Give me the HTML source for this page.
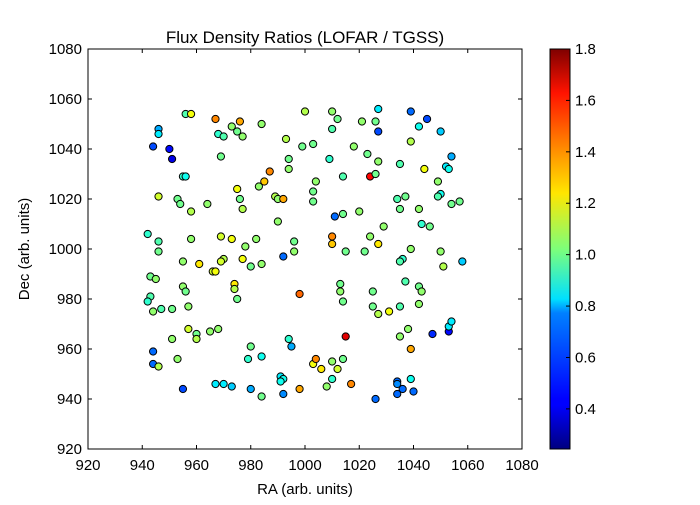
<!DOCTYPE html>
<html><head><meta charset="utf-8"><style>
body{margin:0;background:#fff;}
svg text{font-family:"Liberation Sans","DejaVu Sans",sans-serif;fill:#000;}
</style></head><body>
<svg id="chart" width="700" height="500" xmlns="http://www.w3.org/2000/svg">
<defs>
<linearGradient id="jet" x1="0" y1="1" x2="0" y2="0">
<stop offset="0" stop-color="#00007f"/><stop offset="0.11" stop-color="#0000ff"/><stop offset="0.125" stop-color="#0000ff"/>
<stop offset="0.34" stop-color="#0080ff"/><stop offset="0.375" stop-color="#00e0ff"/><stop offset="0.5" stop-color="#7dff7a"/>
<stop offset="0.64" stop-color="#ffe600"/><stop offset="0.75" stop-color="#ff8c00"/><stop offset="0.89" stop-color="#ff1300"/><stop offset="1" stop-color="#7f0000"/>
</linearGradient></defs>
<rect x="0" y="0" width="700" height="500" fill="#fff"/>
<text x="305" y="43" font-size="17" text-anchor="middle">Flux Density Ratios (LOFAR / TGSS)</text>
<g id="plot"></g>
<rect x="88" y="49" width="434" height="400" fill="none" stroke="#000" stroke-width="1"/>
<text x="305" y="494" font-size="15" text-anchor="middle">RA (arb. units)</text>
<text transform="translate(29,249) rotate(-90)" font-size="15" text-anchor="middle">Dec (arb. units)</text>
<rect x="550" y="49" width="20" height="400" fill="url(#jet)" stroke="#000" stroke-width="1"/>
<g id="cbticks"></g>
</svg>
<script>
const xTicks=[920,940,960,980,1000,1020,1040,1060,1080];
const yTicks=[920,940,960,980,1000,1020,1040,1060,1080];
const cbTicks=[0.4,0.6,0.8,1.0,1.2,1.4,1.6,1.8];
const raValues=[1000,1010,1012,1027,1039,1045,1050,1027,1021,1026,1010,1042,984,976,967,956,958,946,946,944,950,951,973,975,977,968,970,993,999,1003,1014,1023,1027,1009,1018,1035,1039,1044,1049,1050,1052,1053,1054,1057,1054,1049,1024,1026,1004,1003,1003,994,994,969,975,976,977,983,985,987,989,990,992,964,953,954,958,946,955,956,990,1014,1011,1020,1029,1034,1037,1035,1042,1046,1043,1010,1010,1015,1022,1024,1027,1039,1036,1035,1042,1043,1037,1050,1051,1058,942,946,946,958,969,973,982,978,977,970,969,966,967,961,955,974,974,980,984,992,996,996,998,943,945,943,942,947,944,951,955,956,957,975,965,968,960,960,951,957,944,944,946,953,955,967,970,973,979,980,984,984,980,991,992,991,992,994,995,998,1013,1013,1014,1015,1014,1003,1004,1006,1008,1010,1010,1012,1017,1025,1025,1027,1031,1035,1038,1039,1035,1042,1047,1053,1053,1054,1034,1034,1036,1039,1040,1034,1026];
const decValues=[1055,1055,1052,1056,1055,1052,1047,1047,1051,1051,1048,1049,1050,1051,1052,1054,1054,1048,1046,1041,1040,1036,1049,1047,1045,1046,1045,1044,1041,1042,1029,1038,1035,1036,1041,1034,1043,1032,1027,1022,1033,1032,1037,1019,1018,1021,1029,1030,1027,1023,1019,1036,1032,1037,1024,1020,1016,1025,1027,1031,1021,1020,1020,1018,1020,1018,1015,1021,1029,1029,1011,1014,1013,1015,1009,1020,1021,1016,1016,1009,1010,1005,1002,999,999,1005,1002,1000,996,995,985,983,987,999,993,995,1006,1003,999,1004,1005,1004,1004,1001,996,996,995,991,991,994,995,986,984,993,994,997,999,1003,982,989,988,981,979,976,975,976,985,983,977,980,967,968,966,964,964,968,959,954,953,956,944,946,946,945,956,961,957,941,944,949,948,947,942,964,961,944,986,983,979,965,956,954,956,952,945,948,955,952,946,983,977,974,975,977,968,960,965,978,966,967,969,971,947,946,944,948,943,942,940];
const ratioValues=[1.1,1.05,1.0,0.8,0.6,0.55,0.75,0.55,1.05,1.0,0.95,0.85,1.05,1.35,1.4,0.95,1.2,0.7,0.8,0.55,0.45,0.4,1.05,1.0,1.05,0.9,0.95,1.1,1.0,1.0,0.95,1.0,1.05,0.9,1.05,0.95,1.1,1.2,1.05,0.85,0.8,0.85,0.7,1.0,1.0,0.95,1.6,1.0,1.05,1.0,1.0,1.0,1.05,1.0,1.2,1.0,1.1,1.05,1.3,1.4,1.1,1.05,1.35,1.05,1.0,1.0,1.1,1.15,0.9,0.85,1.05,1.0,0.6,1.05,1.05,0.95,1.0,1.0,1.05,1.0,0.9,1.4,1.3,1.0,1.0,1.05,1.25,1.05,0.9,0.95,1.0,1.05,0.95,1.05,1.1,0.75,0.9,0.95,1.0,1.05,1.15,1.2,1.05,1.05,1.2,1.1,1.15,1.15,1.2,1.25,1.05,1.25,1.1,1.0,1.05,0.6,1.05,1.0,1.45,1.0,1.05,0.95,0.9,0.95,1.05,1.0,1.05,1.0,1.05,1.0,1.05,1.05,1.0,1.1,1.05,1.15,0.6,0.6,1.1,1.05,0.55,0.8,0.8,0.75,0.9,1.0,0.85,1.0,0.7,0.8,0.85,0.85,0.65,0.9,0.7,1.35,1.0,1.05,1.0,1.65,1.0,1.2,1.4,1.25,1.05,0.9,1.05,1.15,1.4,1.0,1.0,1.1,1.2,0.95,1.05,1.35,1.05,1.05,0.5,0.45,0.8,0.8,0.6,0.65,0.6,0.85,0.6,0.6,0.6];
const VMIN=0.244,VMAX=1.8;
const NS="http://www.w3.org/2000/svg";
const X0=88,X1=522,Y0=449,Y1=49;
function xs(v){return X0+(v-920)/160*(X1-X0);}
function ys(v){return Y0-(v-920)/160*(Y0-Y1);}
function cs(v){return Y0-(v-VMIN)/(VMAX-VMIN)*(Y0-Y1);}
function jet(v){let t=(v-VMIN)/(VMAX-VMIN);t=Math.max(0,Math.min(1,t));
 const f=(a)=>Math.max(0,Math.min(1,1.5-Math.abs(4*t-a)));
 return `rgb(${Math.round(255*f(3))},${Math.round(255*f(2))},${Math.round(255*f(1))})`;}
function mk(tag,attrs){const e=document.createElementNS(NS,tag);for(const k in attrs)e.setAttribute(k,attrs[k]);return e;}
const svg=document.getElementById('chart');
const plot=document.getElementById('plot');
const cb=document.getElementById('cbticks');
xTicks.forEach(t=>{const x=xs(t);
 const l1=mk('line',{x1:x,x2:x,y1:Y0,y2:Y0-4,stroke:'#000'});
 
 
 svg.appendChild(l1);
 const l2=mk('line',{x1:x,x2:x,y1:Y1,y2:Y1+4,stroke:'#000'});
 
 
 svg.appendChild(l2);
 const tx=mk('text',{x:x,y:Y0+21,'font-size':15,'text-anchor':'middle'});tx.textContent=t;
 
 
 svg.appendChild(tx);});
yTicks.forEach(t=>{const y=ys(t);
 const l1=mk('line',{x1:X0,x2:X0+4,y1:y,y2:y,stroke:'#000'});
 
 
 svg.appendChild(l1);
 const l2=mk('line',{x1:X1,x2:X1-4,y1:y,y2:y,stroke:'#000'});
 
 
 svg.appendChild(l2);
 const tx=mk('text',{x:X0-6,y:y+5,'font-size':15,'text-anchor':'end'});tx.textContent=t;
 
 
 svg.appendChild(tx);});
cbTicks.forEach(t=>{const y=cs(t);
 const l=mk('line',{x1:566,x2:570,y1:y,y2:y,stroke:'#000'});
 
 
 cb.appendChild(l);
 const tx=mk('text',{x:575,y:y+5,'font-size':15});tx.textContent=t.toFixed(1);
 
 
 cb.appendChild(tx);});
raValues.forEach((ra,i)=>{
 const c=mk('circle',{cx:xs(ra),cy:ys(decValues[i]),r:3.6,fill:jet(ratioValues[i]),stroke:'#000','stroke-width':1});
 
 
 plot.appendChild(c);});
</script>
</body></html>
